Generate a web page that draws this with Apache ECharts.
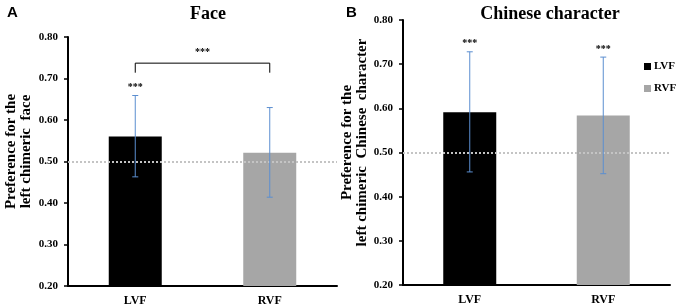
<!DOCTYPE html>
<html>
<head>
<meta charset="utf-8">
<script src="https://cdn.jsdelivr.net/npm/echarts@6/dist/echarts.min.js"></script>
<style>
  html, body { margin: 0; padding: 0; background: #fff; }
  #chart { width: 680px; height: 308px; }
</style>
</head>
<body>
<div id="chart"></div>
<script>
// data
const categories = ['LVF', 'RVF']
const faceMeans = [0.56, 0.521]
const faceErrLow = [0.463, 0.414]
const faceErrHigh = [0.659, 0.63]
const faceStars = ['***', '']
const charMeans = [0.591, 0.584]
const charErrLow = [0.456, 0.452]
const charErrHigh = [0.728, 0.716]
const charStars = ['***', '***']
const chanceLevel = 0.5
// bracket between LVF and RVF in panel A
const faceBracket = [0, 1, 0.737, 0.714, '***']

const serif = 'Liberation Serif'
const barColors = ['#000000', '#a6a6a6']

function axisY (idx, name, gap) {
  return {
    type: 'value',
    gridIndex: idx,
    min: 0.2,
    max: 0.8,
    interval: 0.1,
    name: name,
    nameLocation: 'middle',
    nameGap: gap,
    // left padding pushes the rotated name up the axis
    nameTextStyle: { fontFamily: serif, fontWeight: 'bold', fontSize: 15, color: '#000', lineHeight: 15, padding: [0, 0, 0, 20] },
    axisLine: { show: true, lineStyle: { color: '#000', width: 2 } },
    axisTick: { show: true, length: 4, lineStyle: { color: '#000', width: 1.5 } },
    axisLabel: {
      margin: 10,
      color: '#000',
      fontFamily: serif,
      fontWeight: 'bold',
      fontSize: 11,
      formatter: function (v) { return v.toFixed(2) }
    },
    splitLine: { show: false }
  }
}

function axisX (idx) {
  return {
    type: 'category',
    gridIndex: idx,
    data: categories,
    axisLine: { lineStyle: { color: '#000', width: 2 } },
    axisTick: { alignWithLabel: true, length: 4, lineStyle: { color: '#000', width: 1.5 } },
    axisLabel: { margin: 9, color: '#000', fontFamily: serif, fontWeight: 'bold', fontSize: 12 }
  }
}

function bars (idx, means) {
  return categories.map(function (c, i) {
    return {
      name: c,
      type: 'bar',
      xAxisIndex: idx,
      yAxisIndex: idx,
      barWidth: 53,
      barGap: '-100%',
      itemStyle: { color: barColors[i] },
      data: means.map(function (v, j) { return j === i ? v : '-' })
    }
  })
}

function errorBars (idx, low, high, stars) {
  return {
    type: 'custom',
    xAxisIndex: idx,
    yAxisIndex: idx,
    z: 5,
    data: low.map(function (l, i) { return [i, l, high[i], stars[i]] }),
    renderItem: function (params, api) {
      const lo = api.coord([api.value(0), api.value(1)])
      const hi = api.coord([api.value(0), api.value(2)])
      const st = { stroke: '#5b8ed0', lineWidth: 1 }
      const kids = [
        { type: 'line', shape: { x1: hi[0], y1: hi[1], x2: lo[0], y2: lo[1] }, style: st },
        { type: 'line', shape: { x1: hi[0] - 3, y1: hi[1], x2: hi[0] + 3, y2: hi[1] }, style: st },
        { type: 'line', shape: { x1: lo[0] - 3, y1: lo[1], x2: lo[0] + 3, y2: lo[1] }, style: st }
      ]
      const s = stars[params.dataIndex]
      if (s) {
        kids.push({
          type: 'text',
          style: { text: s, x: hi[0], y: hi[1] - 3, align: 'center', verticalAlign: 'bottom', fill: '#000', font: 'bold 10px ' + serif }
        })
      }
      return { type: 'group', children: kids }
    },
    markLine: {
      silent: true,
      symbol: 'none',
      label: { show: false },
      lineStyle: { type: 'dotted', color: '#c4c4c4', width: 2 },
      data: [{ yAxis: chanceLevel }]
    }
  }
}

const bracketSeries = {
  type: 'custom',
  xAxisIndex: 0,
  yAxisIndex: 0,
  z: 5,
  data: [faceBracket],
  renderItem: function (params, api) {
    const a = api.coord([api.value(0), api.value(2)])
    const b = api.coord([api.value(1), api.value(2)])
    const foot = api.coord([api.value(0), api.value(3)])
    const st = { stroke: '#000', lineWidth: 1 }
    return {
      type: 'group',
      children: [
        { type: 'polyline', shape: { points: [[a[0], foot[1]], a, b, [b[0], foot[1]]] }, style: Object.assign({ fill: null }, st) },
        { type: 'text', style: { text: faceBracket[4], x: (a[0] + b[0]) / 2, y: a[1] - 6, align: 'center', verticalAlign: 'bottom', fill: '#000', font: 'bold 10px ' + serif } }
      ]
    }
  }
}

const chart = echarts.init(document.getElementById('chart'))
chart.setOption({
  animation: false,
  title: [
    { text: 'A', left: 2, top: 0, textStyle: { fontFamily: 'Liberation Sans', fontWeight: 'bold', fontSize: 15, color: '#000' } },
    { text: 'Face', left: 203, textAlign: 'center', top: 0, textStyle: { fontFamily: serif, fontWeight: 'bold', fontSize: 18, color: '#000' } },
    { text: 'B', left: 341, top: 0, textStyle: { fontFamily: 'Liberation Sans', fontWeight: 'bold', fontSize: 15, color: '#000' } },
    { text: 'Chinese character', left: 545, textAlign: 'center', top: 0, textStyle: { fontFamily: serif, fontWeight: 'bold', fontSize: 18, color: '#000' } }
  ],
  legend: {
    data: categories,
    orient: 'vertical',
    left: 639,
    top: 56,
    itemWidth: 7,
    itemHeight: 7,
    itemGap: 11,
    icon: 'rect',
    textStyle: { fontFamily: serif, fontWeight: 'bold', fontSize: 11, color: '#000', padding: [0, 0, 0, -2] }
  },
  grid: [
    { left: 68, right: 343, top: 37, bottom: 22 },
    { left: 403, right: 10, top: 20, bottom: 23 }
  ],
  xAxis: [axisX(0), axisX(1)],
  yAxis: [
    axisY(0, 'Preference for the\nleft chimeric  face', 34),
    axisY(1, 'Preference for the\nleft chimeric  Chinese  character', 29)
  ],
  series: []
    .concat(bars(0, faceMeans))
    .concat(bars(1, charMeans))
    .concat([
      errorBars(0, faceErrLow, faceErrHigh, faceStars),
      errorBars(1, charErrLow, charErrHigh, charStars),
      bracketSeries
    ])
})
</script>
</body>
</html>
